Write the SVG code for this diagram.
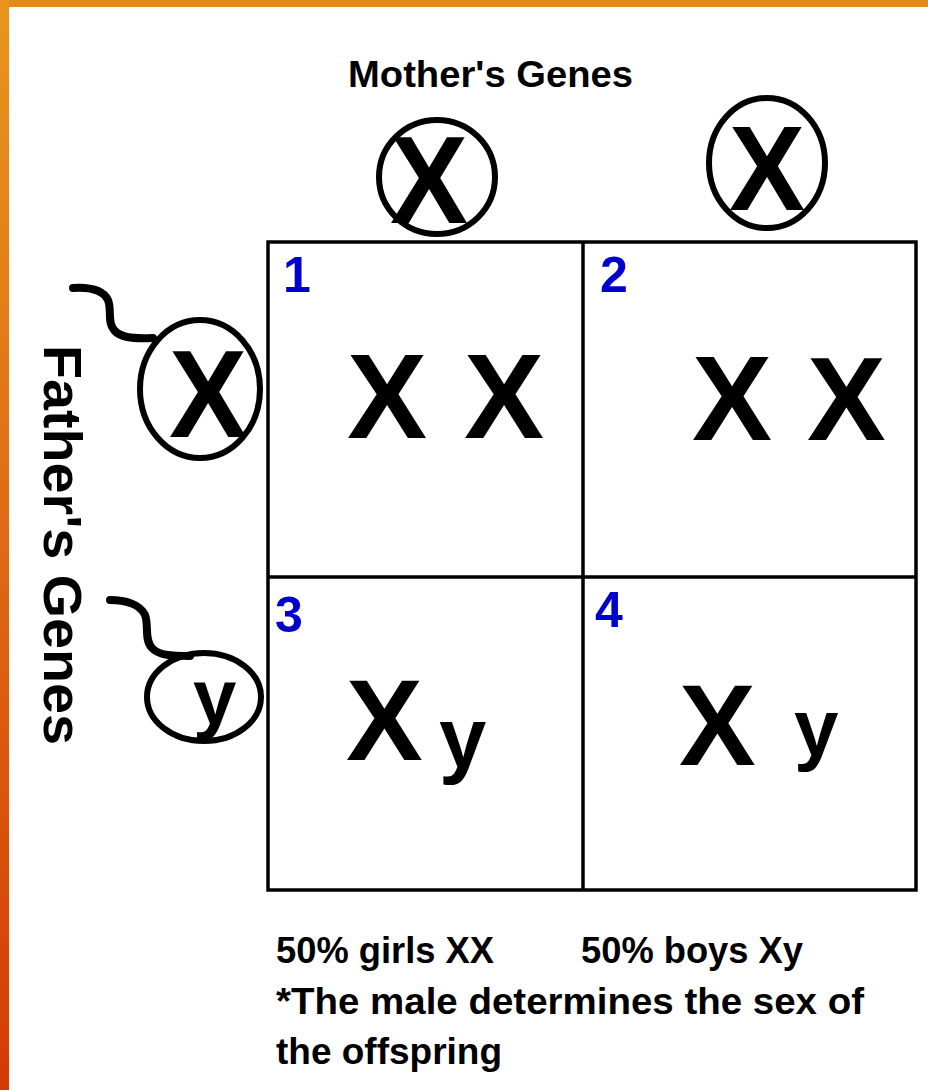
<svg xmlns="http://www.w3.org/2000/svg" width="928" height="1090" viewBox="0 0 928 1090">
  <defs>
    <linearGradient id="leftBand" x1="0" y1="0" x2="0" y2="1">
      <stop offset="0" stop-color="#e8951e"/>
      <stop offset="0.5" stop-color="#de6a14"/>
      <stop offset="1" stop-color="#d43a04"/>
    </linearGradient>
    <style>
      .grid { fill: none; stroke: #000; stroke-width: 3.5; }
      .ring { fill: none; stroke: #000; stroke-width: 6; }
      .tail { fill: none; stroke: #000; stroke-width: 8; stroke-linecap: round; stroke-linejoin: round; }
      .big { font-family: "Liberation Sans", Arial, sans-serif; font-weight: bold; fill: #000; }
      .num { font-family: "Liberation Sans", Arial, sans-serif; font-weight: bold; fill: #0000cd; font-size: 50px; }
      .note { font-family: "Liberation Sans", Arial, sans-serif; font-weight: bold; fill: #000; font-size: 36px; }
    </style>
  </defs>
  <rect x="0" y="0" width="928" height="1090" fill="#fff"/>
  <rect x="0" y="0" width="928" height="7" fill="#e28a1e"/>
  <rect x="0" y="0" width="9" height="1090" fill="url(#leftBand)"/>

  <g id="mother-label">
    <text class="note" x="348" y="87" textLength="285" lengthAdjust="spacingAndGlyphs">Mother's Genes</text>
  </g>
  <g id="mother-x1">
    <ellipse class="ring" cx="437" cy="177" rx="58" ry="57"/>
    <text class="big" x="390" y="223" font-size="124" textLength="78" lengthAdjust="spacingAndGlyphs">X</text>
  </g>
  <g id="mother-x2">
    <ellipse class="ring" cx="767" cy="163" rx="58" ry="65"/>
    <text class="big" x="729" y="210" font-size="121" textLength="76" lengthAdjust="spacingAndGlyphs">X</text>
  </g>

  <g id="father-label">
    <text class="big" font-size="54" transform="translate(44,345) rotate(90)" textLength="400" lengthAdjust="spacingAndGlyphs" fill="#111">Father's Genes</text>
  </g>

  <g id="connectors">
    <path class="tail" d="M73,288 C90,287 103,290 108,300 C112,310 107,322 114,330 C120,337 130,339 153,338"/>
    <path class="tail" d="M110,600 C125,600 140,604 145,615 C149,625 144,640 152,648 C158,655 170,656 190,656"/>
  </g>

  <g id="father-x">
    <ellipse class="ring" cx="200" cy="389" rx="60" ry="69"/>
    <text class="big" x="169" y="437" font-size="124" textLength="78" lengthAdjust="spacingAndGlyphs">X</text>
  </g>
  <g id="father-y">
    <ellipse class="ring" cx="204" cy="697" rx="57" ry="44"/>
    <text class="big" x="193" y="724" font-size="78">y</text>
  </g>

  <g id="grid">
    <rect class="grid" x="268" y="242" width="648" height="648"/>
    <line class="grid" x1="583" y1="242" x2="583" y2="890"/>
    <line class="grid" x1="268" y1="577" x2="916" y2="577"/>
  </g>

  <g id="cell-1">
    <text class="num" x="283" y="292">1</text>
    <text class="big" x="347" y="438" font-size="120">X</text>
    <text class="big" x="464" y="438" font-size="120">X</text>
  </g>
  <g id="cell-2">
    <text class="num" x="600" y="292">2</text>
    <text class="big" x="692" y="440" font-size="120">X</text>
    <text class="big" x="807" y="440" font-size="118">X</text>
  </g>
  <g id="cell-3">
    <text class="num" x="275" y="632">3</text>
    <text class="big" x="346" y="760" font-size="115">X</text>
    <text class="big" x="439" y="767" font-size="85">y</text>
  </g>
  <g id="cell-4">
    <text class="num" x="595" y="627">4</text>
    <text class="big" x="679" y="765" font-size="115">X</text>
    <text class="big" x="794" y="755" font-size="80">y</text>
  </g>

  <g id="summary">
    <text class="note" x="276" y="963" textLength="218" lengthAdjust="spacingAndGlyphs">50% girls XX</text>
    <text class="note" x="581" y="963" textLength="222" lengthAdjust="spacingAndGlyphs">50% boys Xy</text>
    <text class="note" x="276" y="1014" textLength="588" lengthAdjust="spacingAndGlyphs">*The male determines the sex of</text>
    <text class="note" x="276" y="1064" textLength="226" lengthAdjust="spacingAndGlyphs">the offspring</text>
  </g>
</svg>
